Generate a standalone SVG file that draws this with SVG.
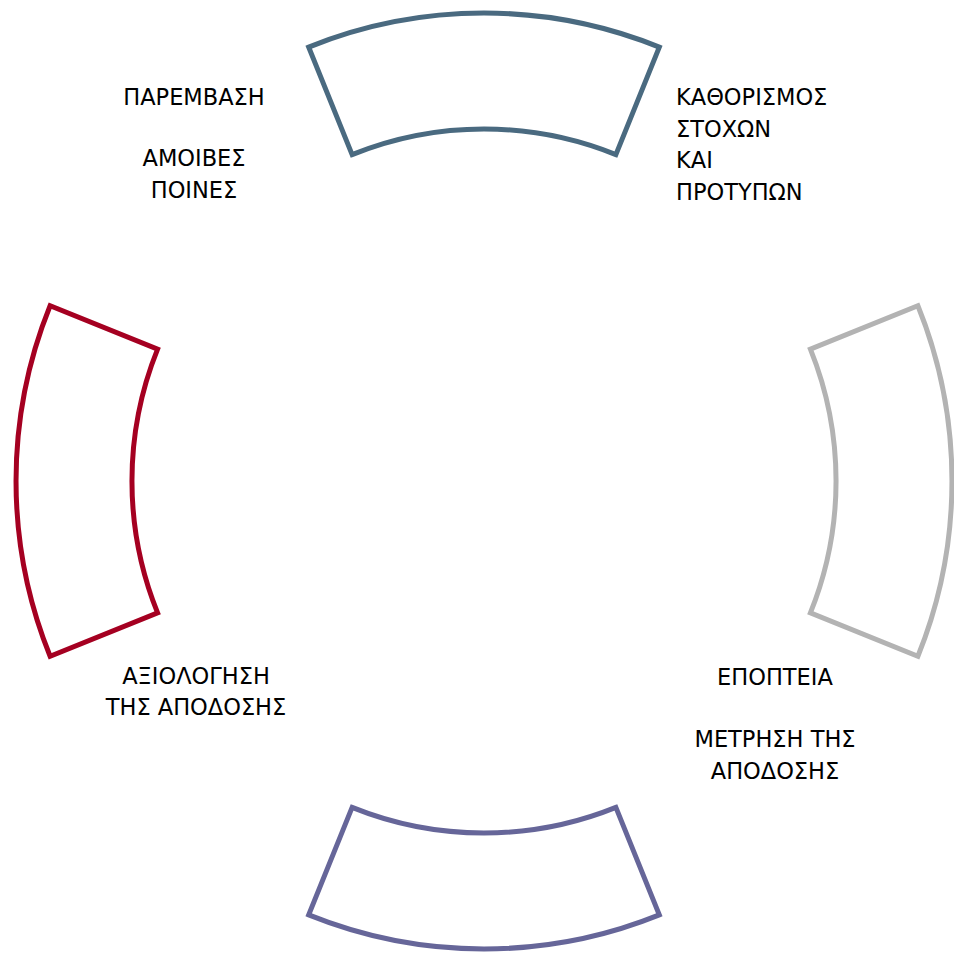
<svg xmlns="http://www.w3.org/2000/svg" width="954" height="954" viewBox="0 0 954 954">
<style>
.seg{fill:#fff;stroke-width:5;stroke-linejoin:miter}
.t{font-family:"DejaVu Sans",Verdana,sans-serif;font-size:22.5px;fill:#000}
.c{text-anchor:middle}
</style>
<rect width="954" height="954" fill="#fff"/>
<g id="seg-top"><path class="seg" stroke="#4A6A80" d="M308.7,47.1 A468,468 0 0 1 659.3,47.1 L615.9,154.6 A352,352 0 0 0 352.1,154.6 Z"/></g>
<g id="seg-right"><path class="seg" stroke="#B3B3B3" d="M917.9,305.7 A468,468 0 0 1 917.9,656.3 L810.4,612.9 A352,352 0 0 0 810.4,349.1 Z"/></g>
<g id="seg-bottom"><path class="seg" stroke="#666699" d="M659.3,914.9 A468,468 0 0 1 308.7,914.9 L352.1,807.4 A352,352 0 0 0 615.9,807.4 Z"/></g>
<g id="seg-left"><path class="seg" stroke="#A50021" d="M50.1,656.3 A468,468 0 0 1 50.1,305.7 L157.6,349.1 A352,352 0 0 0 157.6,612.9 Z"/></g>
<g id="label-top-left" class="t c">
<text x="194" y="105">ΠΑΡΕΜΒΑΣΗ</text>
<text x="194" y="166">ΑΜΟΙΒΕΣ</text>
<text x="194" y="198">ΠΟΙΝΕΣ</text>
</g>
<g id="label-top-right" class="t">
<text x="676" y="105">ΚΑΘΟΡΙΣΜΟΣ</text>
<text x="676" y="136.5">ΣΤΟΧΩΝ</text>
<text x="676" y="168">ΚΑΙ</text>
<text x="676" y="199.5">ΠΡΟΤΥΠΩΝ</text>
</g>
<g id="label-bottom-left" class="t c">
<text x="196" y="683.5">ΑΞΙΟΛΟΓΗΣΗ</text>
<text x="196" y="715">ΤΗΣ ΑΠΟΔΟΣΗΣ</text>
</g>
<g id="label-bottom-right" class="t c">
<text x="775" y="685">ΕΠΟΠΤΕΙΑ</text>
<text x="775" y="747">ΜΕΤΡΗΣΗ ΤΗΣ</text>
<text x="775" y="778.5">ΑΠΟΔΟΣΗΣ</text>
</g>
<g id="connectors"></g>
</svg>
